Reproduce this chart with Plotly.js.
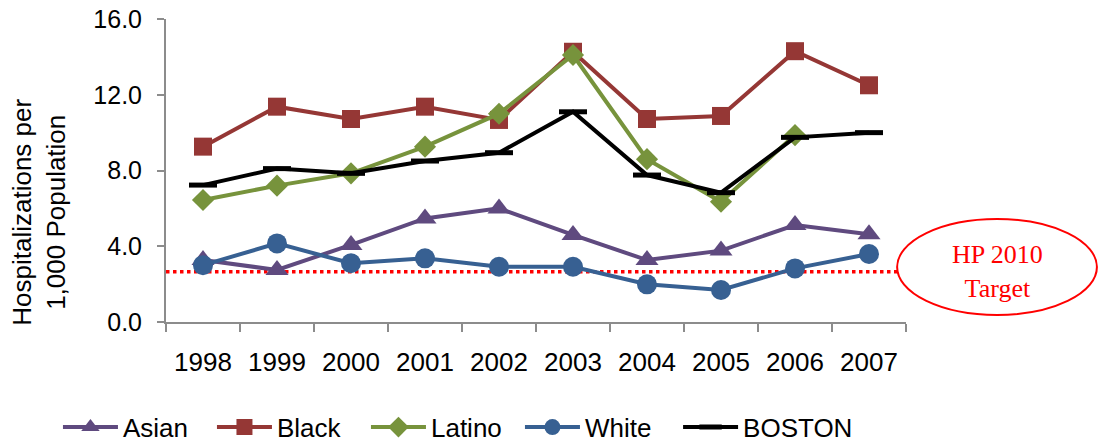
<!DOCTYPE html>
<html>
<head>
<meta charset="utf-8">
<script src="https://cdn.plot.ly/plotly-3.0.1.min.js"></script>
<style>html,body{margin:0;padding:0;background:#fff;}#chart{width:1102px;height:442px;}</style>
</head>
<body>
<div id="chart"></div>
<script>
const years = ['1998','1999','2000','2001','2002','2003','2004','2005','2006','2007'];
const asian  = [3.27, 2.75, 4.07, 5.47, 6.0, 4.6, 3.27, 3.77, 5.12, 4.63];
const black  = [9.26, 11.37, 10.72, 11.37, 10.67, 14.27, 10.72, 10.88, 14.3, 12.5];
const latino = [6.44, 7.2, 7.85, 9.26, 11.0, 14.1, 8.6, 6.35, 9.87, null];
const white  = [3.0, 4.15, 3.1, 3.36, 2.92, 2.92, 1.99, 1.69, 2.83, 3.59];
const boston = [7.23, 8.1, 7.85, 8.5, 8.94, 11.1, 7.76, 6.83, 9.75, 10.0];
const hpTarget = 2.66;
const yTicks = [0, 4, 8, 12, 16];
const yTitle = 'Hospitalizations per<br>1,000 Population';
const targetLabel = 'HP 2010<br>Target';

const lw = 4;
const traces = [
  {name:'Asian', x:years, y:asian, mode:'lines+markers',
   line:{color:'#5f4a7f', width:lw}, marker:{symbol:'triangle-up', size:20, color:'#5f4a7f'}},
  {name:'Black', x:years, y:black, mode:'lines+markers',
   line:{color:'#953735', width:lw}, marker:{symbol:'square', size:18, color:'#953735'}},
  {name:'Latino', x:years, y:latino, mode:'lines+markers',
   line:{color:'#77933c', width:lw}, marker:{symbol:'diamond', size:17, color:'#77933c'}},
  {name:'White', x:years, y:white, mode:'lines+markers',
   line:{color:'#376092', width:lw}, marker:{symbol:'circle', size:20, color:'#376092'}},
  {name:'BOSTON', x:years, y:boston, mode:'lines+markers', legend:'legend2',
   line:{color:'#000000', width:lw}, marker:{symbol:'line-ew', size:20, color:'#000000', line:{color:'#000000', width:5}}}
];

const legendCommon = {orientation:'h', xanchor:'left', y:-0.347, yanchor:'middle',
  font:{size:26, color:'#000'}, itemwidth:55, tracegroupgap:0, bgcolor:'rgba(0,0,0,0)'};

const layout = {
  width:1102, height:442,
  margin:{l:166, r:196, t:19, b:120, autoexpand:false},
  paper_bgcolor:'#ffffff', plot_bgcolor:'#ffffff',
  font:{family:'Liberation Sans, Arial, sans-serif', color:'#000000', size:26},
  showlegend:true,
  legend:Object.assign({}, legendCommon, {x:-0.146, entrywidth:84, entrywidthmode:'pixels'}),
  legend2:Object.assign({}, legendCommon, {x:0.692}),
  xaxis:{type:'category', range:[-0.5, 9.5], showline:true, linecolor:'#8c8c8c', linewidth:2,
         ticks:'outside', tickson:'boundaries', ticklen:8, tickwidth:2, tickcolor:'#8c8c8c',
         showgrid:false, zeroline:false, tickfont:{size:26}, ticklabelstandoff:16, fixedrange:true},
  yaxis:{range:[0,16], tickvals:yTicks, ticktext:yTicks.map(v=>v.toFixed(1)),
         showline:true, linecolor:'#8c8c8c', linewidth:2, ticks:'outside', ticklen:7, tickwidth:2,
         tickcolor:'#8c8c8c', showgrid:false, zeroline:false, tickfont:{size:25}, ticklabelstandoff:10, fixedrange:true},
  shapes:[
    {type:'line', xref:'paper', yref:'y', x0:0, x1:0.99, y0:hpTarget, y1:hpTarget,
     line:{color:'#ff0000', width:3.5, dash:'dot'}, layer:'below'},
    {type:'circle', xref:'paper', yref:'y', x0:0.988, x1:1.258, y0:0.37, y1:5.44,
     line:{color:'#ff0000', width:2}, fillcolor:'#ffffff', layer:'above'}
  ],
  annotations:[
    {text:yTitle, xref:'paper', yref:'paper', x:-0.172, y:0.363, xanchor:'center', yanchor:'middle',
     textangle:-90, showarrow:false, font:{size:26, color:'#000'}},
    {text:targetLabel, xref:'paper', yref:'y', x:1.123, y:hpTarget, xanchor:'center', yanchor:'middle',
     showarrow:false, font:{family:'Liberation Serif, Times New Roman, serif', size:26, color:'#ff0000'}}
  ]
};

Plotly.newPlot('chart', traces, layout, {displayModeBar:false, staticPlot:true});
</script>
</body>
</html>
